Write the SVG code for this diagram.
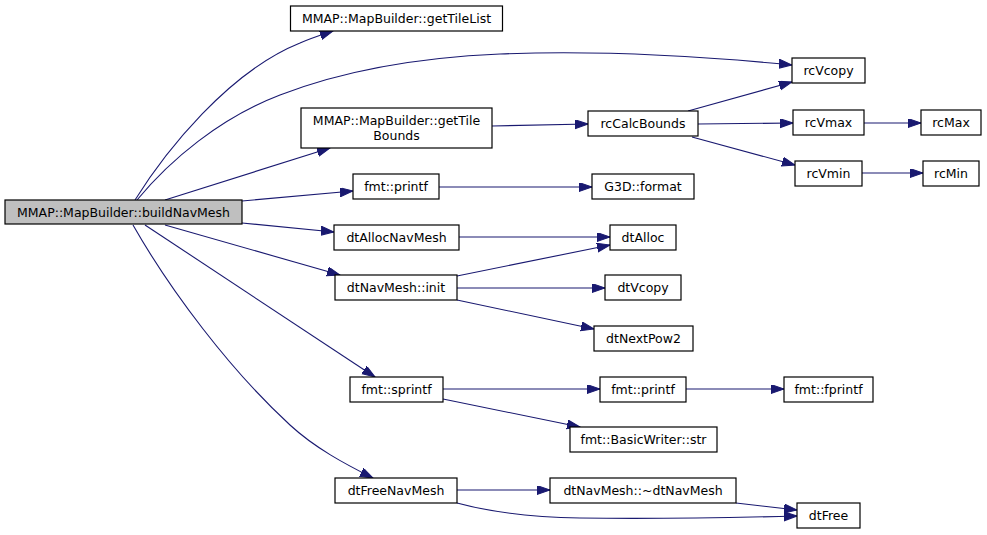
<svg xmlns="http://www.w3.org/2000/svg" width="987" height="535" viewBox="0 0 987 535">
<defs>
<marker id="ah" markerUnits="userSpaceOnUse" markerWidth="14" markerHeight="10" refX="13" refY="4.5" orient="auto">
<path d="M0,0 L13,4.5 L0,9 z" fill="#191970" stroke="#191970" stroke-width="1"/>
</marker>
<style>
.n rect{fill:#fff;stroke:#000;stroke-width:1.2}
.n text{font-family:"DejaVu Sans",sans-serif;font-size:12.5px;fill:#000;text-anchor:middle}
#edges path{fill:none;stroke:#191970;stroke-width:1.1;marker-end:url(#ah)}
</style>
</defs>
<rect width="987" height="535" fill="#fff"/>
<g id="edges">
<path d="M135,200 C165,152 228,72 300,43 C311,38 321,35 333,31"/>
<path d="M137,200 C170,160 220,118 280,95 C350,68 430,57 500,54 C600,50 700,56 792,65"/>
<path d="M165,200 L330,148"/>
<path d="M242,201 L353,191"/>
<path d="M242,223 L334,232"/>
<path d="M165,225 L340,275"/>
<path d="M145,225 L375,377"/>
<path d="M133,225 C170,290 230,370 290,425 C315,448 345,464 373,478"/>
<path d="M492,126 L588,124"/>
<path d="M688,111 L792,82"/>
<path d="M698,124 L793,123"/>
<path d="M692,137 L795,165"/>
<path d="M864,123 L921,123"/>
<path d="M862,173 L923,173"/>
<path d="M439,187 L592,187"/>
<path d="M459,237 L610,237"/>
<path d="M457,276 L610,245"/>
<path d="M457,288 L605,288"/>
<path d="M457,300 L594,329"/>
<path d="M443,389 L600,389"/>
<path d="M443,399 L580,427"/>
<path d="M686,389 L784,389"/>
<path d="M457,490 L550,490"/>
<path d="M457,503 C490,512 530,517 580,518 C650,519 720,518 797,516"/>
<path d="M736,503 L797,510"/>
</g>
<g id="buildNavMesh" class="n"><rect x="5" y="200" width="237" height="24" style="fill:#bfbfbf"/><text x="123.5" y="216.5">MMAP::MapBuilder::buildNavMesh</text></g>
<g id="getTileList" class="n"><rect x="290.5" y="6" width="212" height="25"/><text x="396.5" y="23">MMAP::MapBuilder::getTileList</text></g>
<g id="getTileBounds" class="n"><rect x="301" y="108" width="191" height="40"/><text x="396.5" y="124.5">MMAP::MapBuilder::getTile</text><text x="396.5" y="139.5">Bounds</text></g>
<g id="fmt_printf" class="n"><rect x="353" y="174" width="86" height="25"/><text x="396" y="191">fmt::printf</text></g>
<g id="dtAllocNavMesh" class="n"><rect x="334" y="225" width="125" height="25"/><text x="396.5" y="242">dtAllocNavMesh</text></g>
<g id="dtNavMesh_init" class="n"><rect x="335" y="275" width="122" height="25"/><text x="396" y="292">dtNavMesh::init</text></g>
<g id="fmt_sprintf" class="n"><rect x="350" y="377" width="93" height="25"/><text x="396.5" y="394">fmt::sprintf</text></g>
<g id="dtFreeNavMesh" class="n"><rect x="335" y="478" width="122" height="25"/><text x="396" y="495">dtFreeNavMesh</text></g>
<g id="rcCalcBounds" class="n"><rect x="588" y="111" width="110" height="25"/><text x="643" y="128">rcCalcBounds</text></g>
<g id="G3D_format" class="n"><rect x="592" y="174" width="102" height="25"/><text x="643" y="191">G3D::format</text></g>
<g id="dtAlloc" class="n"><rect x="610" y="225" width="66" height="25"/><text x="643" y="242">dtAlloc</text></g>
<g id="dtVcopy" class="n"><rect x="605" y="275" width="76" height="25"/><text x="643" y="292">dtVcopy</text></g>
<g id="dtNextPow2" class="n"><rect x="594" y="326" width="99" height="25"/><text x="643.5" y="343">dtNextPow2</text></g>
<g id="fmt_printf2" class="n"><rect x="600" y="377" width="86" height="25"/><text x="643" y="394">fmt::printf</text></g>
<g id="BasicWriter_str" class="n"><rect x="570" y="427" width="147" height="25"/><text x="643.5" y="444">fmt::BasicWriter::str</text></g>
<g id="dtNavMesh_dtor" class="n"><rect x="550" y="478" width="186" height="25"/><text x="643" y="495">dtNavMesh::~dtNavMesh</text></g>
<g id="rcVcopy" class="n"><rect x="792" y="58" width="73" height="25"/><text x="828.5" y="75">rcVcopy</text></g>
<g id="rcVmax" class="n"><rect x="793" y="110" width="71" height="25"/><text x="828.5" y="127">rcVmax</text></g>
<g id="rcVmin" class="n"><rect x="795" y="161" width="67" height="25"/><text x="828.5" y="178">rcVmin</text></g>
<g id="fmt_fprintf" class="n"><rect x="784" y="377" width="89" height="25"/><text x="828.5" y="394">fmt::fprintf</text></g>
<g id="dtFree" class="n"><rect x="797" y="503" width="63" height="25"/><text x="828.5" y="520">dtFree</text></g>
<g id="rcMax" class="n"><rect x="921" y="110" width="60" height="25"/><text x="951" y="127">rcMax</text></g>
<g id="rcMin" class="n"><rect x="923" y="161" width="56" height="25"/><text x="951" y="178">rcMin</text></g>
</svg>
